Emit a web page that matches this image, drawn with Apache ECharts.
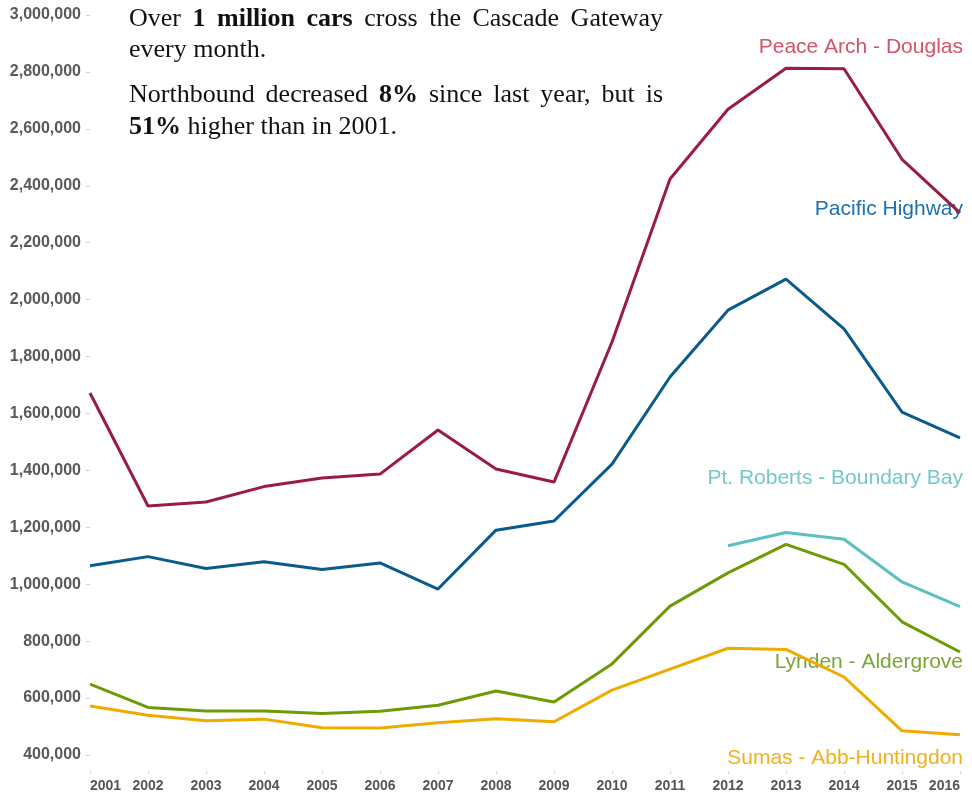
<!DOCTYPE html>
<html><head><meta charset="utf-8">
<script src="https://cdn.jsdelivr.net/npm/echarts@6/dist/echarts.min.js"></script>
<style>html,body{margin:0;padding:0;background:#fff}#c{width:972px;height:796px}</style>
</head><body><div id="c"></div>
<script>
// ---- data ----
const years = ['2001','2002','2003','2004','2005','2006','2007','2008','2009','2010','2011','2012','2013','2014','2015','2016'];
const peaceArchDouglas = [1672000,1275000,1289000,1343000,1373000,1387000,1542000,1405000,1359000,1851000,2424000,2669000,2813000,2811000,2493000,2305000];
const pacificHighway   = [1065000,1097000,1055000,1079000,1052000,1075000,983000,1190000,1222000,1422000,1728000,1963000,2072000,1897000,1605000,1514000];
const ptRobertsBoundaryBay = [null,null,null,null,null,null,null,null,null,null,null,1135000,1182000,1158000,1008000,921000];
const lyndenAldergrove = [649000,567000,555000,555000,546000,554000,575000,625000,586000,720000,923000,1040000,1140000,1070000,868000,762000];
const sumasAbbHuntingdon = [572000,540000,520000,526000,496000,495000,513000,527000,517000,628000,702000,775000,771000,674000,485000,471000];
const seriesNames = ['Peace Arch - Douglas','Pacific Highway','Pt. Roberts - Boundary Bay','Lynden - Aldergrove','Sumas - Abb-Huntingdon'];
const yTickMin = 400000, yTickMax = 3000000, yTickStep = 200000;

// annotation paragraphs: [line segments], each segment [text, bold]
const noteLines = [
  {seg: [['Over',0],['1',1],['million',1],['cars',1],['cross',0],['the',0],['Cascade',0],['Gateway',0]], justify: true},
  {seg: [['every',0],['month.',0]], justify: false},
  {seg: [['Northbound',0],['decreased',0],['8%',1],['since',0],['last',0],['year,',0],['but',0],['is',0]], justify: true},
  {seg: [['51%',1],['higher',0],['than',0],['in',0],['2001.',0]], justify: false}
];

// ---- styles ----
const lineColors  = ['#9b1c43','#0a5b8c','#5dbfbf','#6e9b05','#efab00'];
const labelColors = ['#d1546a','#1d6fb0','#72c9c7','#7aa632','#f2b11c'];
const labelY = [45, 207, 476, 660, 756];
const SERIF = "'Liberation Serif','Times New Roman',serif";
const SANS = "'Liberation Sans',Arial,sans-serif";

const chart = echarts.init(document.getElementById('c'), null, {renderer:'canvas'});

// justified annotation text
const ctx = document.createElement('canvas').getContext('2d');
const noteFontSize = 26, noteLeft = 129, noteRight = 663;
const noteBaseY = [19, 50, 95, 127];
function fontStr(b){ return (b ? 'bold ' : '') + noteFontSize + 'px ' + SERIF; }
const graphics = [];
noteLines.forEach((ln, li) => {
  const widths = ln.seg.map(s => { ctx.font = fontStr(s[1]); return ctx.measureText(s[0]).width; });
  ctx.font = fontStr(0);
  const spaceW = ctx.measureText(' ').width;
  const total = widths.reduce((a,b)=>a+b,0);
  const gap = ln.justify ? (noteRight - noteLeft - total) / (ln.seg.length - 1) : spaceW;
  let x = noteLeft;
  ln.seg.forEach((s, i) => {
    graphics.push({type:'text', left: x, top: noteBaseY[li] - noteFontSize/2,
      style:{text:s[0], font: fontStr(s[1]), fill:'#111'}});
    x += widths[i] + gap;
  });
});
seriesNames.forEach((n, i) => {
  graphics.push({type:'text', right: 972-963, top: labelY[i]-8,
    style:{text:n, fontSize:21, fontFamily:SANS, fill:labelColors[i]}});
});

const dataSets = [peaceArchDouglas, pacificHighway, ptRobertsBoundaryBay, lyndenAldergrove, sumasAbbHuntingdon];
const series = dataSets.map((d, i) => ({
  name: seriesNames[i], type:'line', data: d, showSymbol:false, symbol:'none',
  lineStyle:{width:3, color: lineColors[i]}, itemStyle:{color:lineColors[i]},
  z: 10 - i, connectNulls:false, animation:false
}));

chart.setOption({
  animation:false,
  backgroundColor:'#fff',
  grid:{left:90, right:12, top:15, bottom:41, containLabel:false},
  xAxis:{type:'category', data: years, boundaryGap:false, offset:16,
    axisLine:{show:false},
    axisTick:{show:true, length:3, lineStyle:{color:'#d0d0d0'}},
    axisLabel:{fontFamily:SANS, fontWeight:'bold', fontSize:14, color:'#555', margin:8,
      alignMinLabel:'left', alignMaxLabel:'right', interval:0},
    splitLine:{show:false}},
  yAxis:{type:'value', min:yTickMin, max:yTickMax, interval:yTickStep,
    axisLine:{show:false},
    axisTick:{show:true, length:4, lineStyle:{color:'#d0d0d0'}},
    axisLabel:{fontFamily:SANS, fontWeight:'bold', fontSize:16, color:'#595959', margin:9,
      formatter: v => v.toLocaleString('en-US')},
    splitLine:{show:false}},
  series: series,
  graphic: graphics
});
</script></body></html>
